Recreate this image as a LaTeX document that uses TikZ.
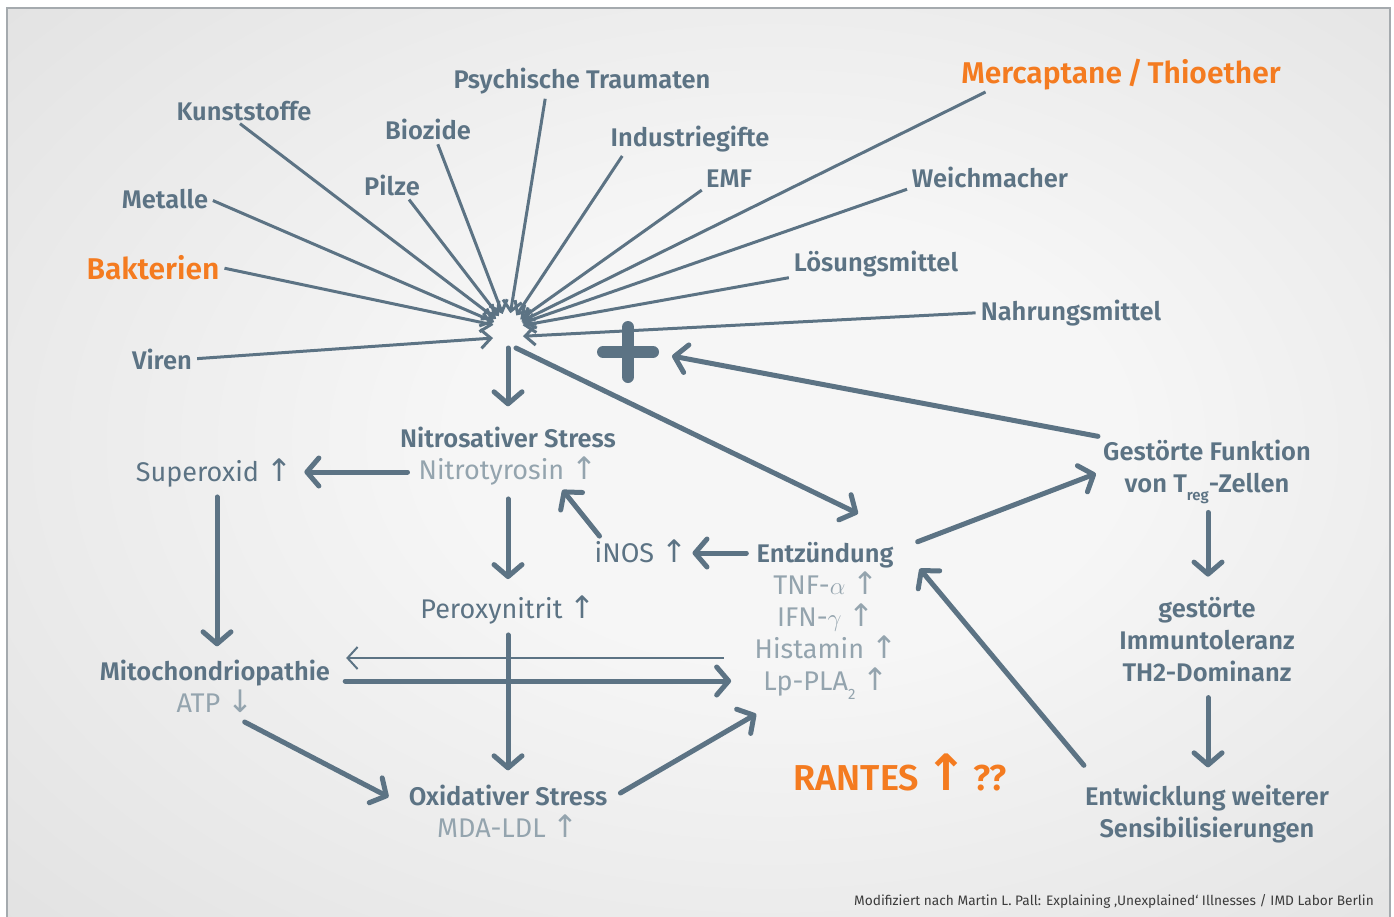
\documentclass[tikz,border=0pt]{standalone}
\usepackage{amsmath}
\usepackage{fontspec}
\setmainfont{Fira Sans}[BoldFont={Fira Sans SemiBold}]
\newfontfamily\arrowfont{DejaVu Sans}
\usetikzlibrary{arrows.meta}

\definecolor{slate}{HTML}{5C7384}
\definecolor{ash}{HTML}{94A4AE}
\definecolor{signal}{HTML}{F47B20}
\definecolor{footgray}{HTML}{3C3C3C}
\definecolor{frameline}{HTML}{A5AAAE}
\definecolor{bglight}{HTML}{F6F6F6}
\definecolor{bgmid}{HTML}{DCDCDC}
\definecolor{bgdark}{HTML}{C0C0C0}

\pgfdeclareradialshading{backdrop}{\pgfpoint{4bp}{2bp}}{color(0bp)=(bglight); color(12bp)=(bglight); color(45bp)=(bgmid); color(71bp)=(bgdark)}

\newcommand{\uparr}{{\arrowfont\fontsize{31}{31}\selectfont ↑}}
\newcommand{\downarr}{{\arrowfont\fontsize{31}{31}\selectfont ↓}}
\newcommand{\lowsub}[1]{\raisebox{-0.35em}{\fontsize{15}{15}\selectfont #1}}

\begin{document}
\begin{tikzpicture}[x=1pt, y=-1pt,
    lbl/.style={font=\fontsize{25.5}{30}\selectfont\bfseries, text=slate, inner sep=0pt, anchor=base},
    hot/.style={font=\fontsize{30}{36}\selectfont\bfseries, text=signal, inner sep=0pt, anchor=base},
    sub/.style={font=\fontsize{27}{30}\selectfont, text=ash, inner sep=0pt, anchor=base},
    plain/.style={font=\fontsize{27}{30}\selectfont, text=slate, inner sep=0pt, anchor=base},
    ray/.style={slate, line width=3pt, shorten <=5pt, shorten >=15pt, -{Straight Barb[length=10pt,width=19pt]}},
    arr/.style={slate, line width=5pt, line cap=round, -{Straight Barb[length=12pt,width=28pt,round]}},
    thinarr/.style={slate, line width=2pt, -{Straight Barb[length=10pt,width=22pt]}}]

    \useasboundingbox (0,0) rectangle (1394,916);
    \clip (0,0) rectangle (1394,916);

    %Background
    \shade[shading=backdrop] (7,8) rectangle (1390,930);
    \draw[frameline, line width=2pt] (7,930) -- (7,8) -- (1390,8) -- (1390,930);

    %Sources
    \node[lbl] (psych) at (582,88) {Psychische Traumaten};
    \node[lbl] (kunst) at (244,120) {Kunststoffe};
    \node[lbl] (bioz) at (428,139) {Biozide};
    \node[lbl] (indus) at (690,146) {Industriegifte};
    \node[hot] (merc) at (1121,83) {Mercaptane\,/\,Thioether};
    \node[lbl] (metal) at (165,208) {Metalle};
    \node[lbl] (pilze) at (392,195) {Pilze};
    \node[lbl] (emf) at (729,187) {EMF};
    \node[lbl] (weich) at (990,187) {Weichmacher};
    \node[hot] (bakt) at (153,279) {Bakterien};
    \node[lbl] (loes) at (876,271) {Lösungsmittel};
    \node[lbl] (nahr) at (1071,320) {Nahrungsmittel};
    \node[lbl] (viren) at (162,369) {Viren};

    \coordinate (hub) at (508,328);
    \coordinate (plus) at (628,352);

    \draw[ray] ([xshift=-8pt]kunst.south) -- (hub);
    \draw[ray] (metal.east) -- (hub);
    \draw[ray] (bakt.east) -- (hub);
    \draw[ray] (viren.east) -- ([yshift=-9pt]hub);
    \draw[ray] ([xshift=-14pt]pilze.south east) -- (hub);
    \draw[ray] ([xshift=8pt]bioz.south) -- (hub);
    \draw[ray] ([xshift=-36pt]psych.south) -- (hub);
    \draw[ray] ([xshift=-65pt]indus.south) -- (hub);
    \draw[ray] (emf.south west) -- (hub);
    \draw[ray] ([xshift=-131pt]merc.south) -- (hub);
    \draw[ray] (weich.south west) -- (hub);
    \draw[ray] (loes.south west) -- (hub);
    \draw[ray] (nahr.west) -- ([yshift=-9pt]hub);

    %Plus
    \draw[slate, line width=12pt, line cap=round] ([xshift=-25pt]plus) -- ([xshift=25pt]plus)
        ([yshift=-25pt]plus) -- ([yshift=25pt]plus);

    %Middle
    \node[lbl] (nitro) at (508,447) {Nitrosativer Stress};
    \node[sub] (tyr) at (508,479) {Nitrotyrosin \uparr};
    \node[plain] (superox) at (214,481) {Superoxid \uparr};
    \node[plain] (inos) at (641,562) {iNOS \uparr};
    \node[lbl] (entz) at (825,562) {Entzündung};
    \node[sub] (tnf) at (826,594) {TNF-$\alpha$ \uparr};
    \node[sub] (ifn) at (826,626) {IFN-$\gamma$ \uparr};
    \node[sub] (hist) at (826,658) {Histamin \uparr};
    \node[sub] (lppla) at (826,690) {Lp-PLA\lowsub{2} \uparr};
    \node[plain] (perox) at (508,618) {Peroxynitrit \uparr};
    \node[lbl] (mito) at (215,680) {Mitochondriopathie};
    \node[sub] (atp) at (215,712) {ATP \downarr};
    \node[lbl] (oxid) at (508,805) {Oxidativer Stress};
    \node[sub] (mda) at (508,837) {MDA-LDL \uparr};
    \node[font=\fontsize{36}{40}\selectfont\bfseries, text=signal, inner sep=0pt, anchor=base] (rantes) at (900,790)
        {RANTES\,{\arrowfont\fontsize{50}{50}\selectfont ↑}\,??};

    %Right column
    \node[lbl] (treg) at (1207,460) {Gestörte Funktion};
    \node[lbl] (treg2) at (1207,492) {von T\lowsub{reg}-Zellen};
    \node[lbl] (immun1) at (1207,617) {gestörte};
    \node[lbl] (immun2) at (1207,649) {Immuntoleranz};
    \node[lbl] (th2) at (1207,681) {TH2-Dominanz};
    \node[lbl] (entw) at (1207,805) {Entwicklung weiterer};
    \node[lbl] (sens) at (1207,837) {Sensibilisierungen};

    \node[font=\fontsize{13.7}{15}\selectfont, text=footgray, inner sep=0pt, anchor=base east] (credit) at (1374,905)
        {Modifiziert nach Martin L. Pall: Explaining ‚Unexplained‘ Illnesses / IMD Labor Berlin};

    %Arrows
    \draw[arr] ([shift={(0,20)}]hub) -- ([shift={(0,-20)}]nitro.north);
    \draw[arr] ([shift={(8,20)}]hub) -- ([shift={(33,-28)}]entz.north);
    \draw[arr] ([shift={(-5,-3)}]treg.north west) -- ([shift={(44,4)}]plus);
    \draw[arr] ([shift={(24,-13)}]entz.east) -- ([shift={(-7,13)}]treg.south west);
    \draw[arr] ([shift={(1,8)}]treg2.south) -- ([shift={(1,-20)}]immun1.north);
    \draw[arr] ([shift={(1,16)}]th2.south) -- ([shift={(1,-17)}]entw.north);
    \draw[arr] ([shift={(-1,-19)}]entw.north west) -- ([shift={(26,14)}]entz.east);
    \draw[arr] ([shift={(-11,-7)}]tyr.base west) -- ([shift={(12,-9)}]superox.base east);
    \draw[arr] ([shift={(3,10)}]superox.south) -- ([shift={(2,-13)}]mito.north);
    \draw[arr] ([shift={(0,14)}]tyr.south) -- ([shift={(0,-16)}]perox.north);
    \draw[arr] ([shift={(5,-3)}]inos.north west) -- ([shift={(-35,5)}]tyr.south east);
    \draw[arr] ([shift={(-10,-9)}]entz.base west) -- ([shift={(5,-9)}]inos.base east);
    \draw[arr] ([shift={(15,1)}]mito.base east) -- ([shift={(-32,-9)}]lppla.base west);
    \draw[thinarr] ([shift={(-31,0)}]hist.base west) -- ([shift={(16,-22)}]mito.base east);
    \draw[arr] ([shift={(0,11)}]perox.south) -- ([shift={(0,-14)}]oxid.north);
    \draw[arr] ([shift={(-9,10)}]atp.base east) -- ([shift={(-20,-8)}]oxid.base west);
    \draw[arr] ([shift={(13,-12)}]oxid.base east) -- ([shift={(-7,24)}]lppla.base west);

\end{tikzpicture}
\end{document}
